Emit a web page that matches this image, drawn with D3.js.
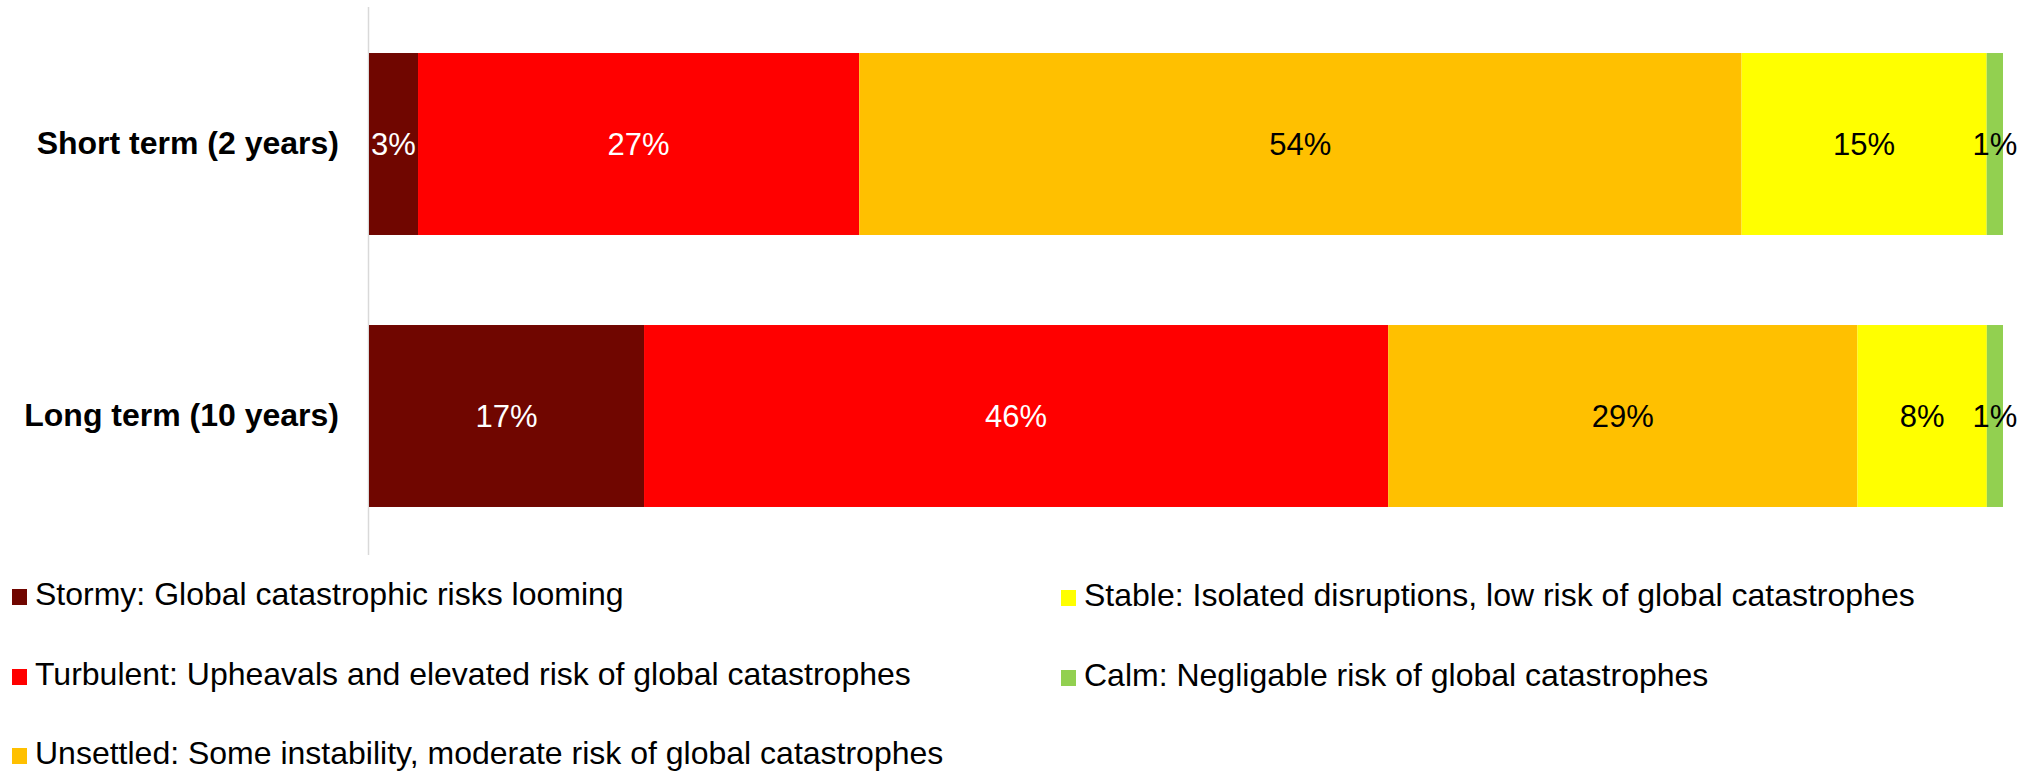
<!DOCTYPE html>
<html>
<head>
<meta charset="utf-8">
<script src="https://cdn.jsdelivr.net/npm/d3@7"></script>
<style>
  html, body { margin: 0; padding: 0; background: #fff; }
  svg { display: block; font-family: "Liberation Sans", Arial, sans-serif; }
</style>
</head>
<body>
<svg id="chart" width="2035" height="774"></svg>
<script>
// ---- data ----
const categories = ["Short term (2 years)", "Long term (10 years)"];
const seriesNames = ["Stormy", "Turbulent", "Unsettled", "Stable", "Calm"];
const legendLabels = [
  "Stormy: Global catastrophic risks looming",
  "Turbulent: Upheavals and elevated risk of global catastrophes",
  "Unsettled: Some instability, moderate risk of global catastrophes",
  "Stable: Isolated disruptions, low risk of global catastrophes",
  "Calm: Negligable risk of global catastrophes"
];
const stormy    = [3, 17];
const turbulent = [27, 46];
const unsettled = [54, 29];
const stable    = [15, 8];
const calm      = [1, 1];
const colors = ["#700600", "#ff0000", "#ffc000", "#ffff00", "#92d050"];
const labelColors = ["#ffffff", "#ffffff", "#000000", "#000000", "#000000"];

// ---- build ----
const seriesValues = [stormy, turbulent, unsettled, stable, calm];
const rows = categories.map((c, i) => {
  const r = { category: c };
  seriesNames.forEach((s, j) => r[s] = seriesValues[j][i]);
  return r;
});

const svg = d3.select("#chart");

const x = d3.scaleLinear().domain([0, 1]).range([369, 2003]);
const y = d3.scaleBand().domain(categories).range([8, 552])
  .paddingInner(0.331).paddingOuter(0.1655);

const stack = d3.stack().keys(seriesNames).offset(d3.stackOffsetExpand);
const stacked = stack(rows);

const color = d3.scaleOrdinal().domain(seriesNames).range(colors);
const lblColor = d3.scaleOrdinal().domain(seriesNames).range(labelColors);

// axis line
svg.append("line")
  .attr("x1", x(0) - 0.5).attr("x2", x(0) - 0.5)
  .attr("y1", y.range()[0] - 1).attr("y2", y.range()[1] + 3)
  .attr("stroke", "#d9d9d9").attr("stroke-width", 1.5);

const groups = svg.append("g").selectAll("g")
  .data(stacked).join("g")
  .attr("fill", d => color(d.key));

groups.selectAll("rect")
  .data(d => d.map(p => ({ key: d.key, p })))
  .join("rect")
  .attr("x", d => x(d.p[0]))
  .attr("width", d => x(d.p[1]) - x(d.p[0]))
  .attr("y", d => y(d.p.data.category))
  .attr("height", y.bandwidth());

// value labels
const lab = svg.append("g");
stacked.forEach(s => {
  s.forEach(p => {
    lab.append("text")
      .attr("x", (x(p[0]) + x(p[1])) / 2)
      .attr("y", y(p.data.category) + y.bandwidth() / 2)
      .attr("dy", "0.36em")
      .attr("text-anchor", "middle")
      .attr("font-size", 31)
      .attr("fill", lblColor(s.key))
      .text(p.data[s.key] + "%");
  });
});

// category labels
const yAxis = d3.axisLeft(y).tickSize(0).tickPadding(30);
const ag = svg.append("g").attr("transform", `translate(${x(0)},0)`).call(yAxis);
ag.select(".domain").remove();
ag.selectAll("text")
  .attr("font-family", "'Liberation Sans', Arial, sans-serif")
  .attr("font-size", 32).attr("font-weight", "bold").attr("fill", "#000");

// legend
const legendPos = [
  { x: 12, y: 605 }, { x: 12, y: 685 }, { x: 12, y: 764 },
  { x: 1061, y: 606 }, { x: 1061, y: 686 }
];
const lg = svg.append("g");
legendLabels.forEach((t, i) => {
  const g = lg.append("g").attr("transform", `translate(${legendPos[i].x},${legendPos[i].y})`);
  g.append("rect").attr("x", 0).attr("y", -16).attr("width", 15).attr("height", 16)
    .attr("fill", colors[i]);
  g.append("text").attr("x", 23).attr("y", 0)
    .attr("font-size", 32).attr("fill", "#000").text(t);
});
</script>
</body>
</html>
